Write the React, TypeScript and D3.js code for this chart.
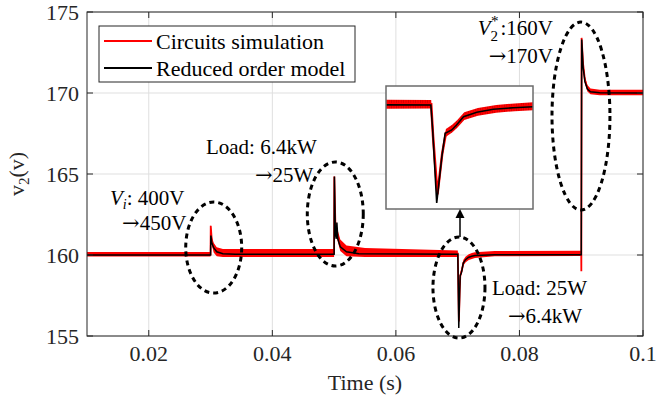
import React from 'react';
import * as d3 from 'd3';

// ---- data -------------------------------------------------------------
const timeTicks = [0.02, 0.04, 0.06, 0.08, 0.1];
const timeTickLabels = ['0.02', '0.04', '0.06', '0.08', '0.1'];
const voltTicks = [155, 160, 165, 170, 175];

// Reduced order model: [time (s), v2 (V)]
const reducedModel: [number, number][] = [
  [0.01, 160.0],
  [0.03, 160.0],
  [0.03005, 161.2],
  [0.0302, 160.75],
  [0.0305, 160.45],
  [0.031, 160.2],
  [0.032, 160.08],
  [0.034, 160.05],
  [0.05, 160.05],
  [0.05005, 164.85],
  [0.0502, 161.3],
  [0.05035, 161.0],
  [0.05045, 162.0],
  [0.0506, 161.0],
  [0.051, 160.5],
  [0.052, 160.2],
  [0.054, 160.08],
  [0.07002, 160.05],
  [0.07007, 158.89],
  [0.07018, 155.5],
  [0.07032, 157.65],
  [0.07041, 158.73],
  [0.07059, 158.89],
  [0.07072, 159.12],
  [0.07091, 159.5],
  [0.07127, 159.71],
  [0.07172, 159.85],
  [0.07226, 159.92],
  [0.0728, 159.97],
  [0.076, 160.02],
  [0.09, 160.02],
  [0.09008, 173.3],
  [0.0903, 171.6],
  [0.0906, 170.7],
  [0.091, 170.25],
  [0.0915, 170.08],
  [0.093, 170.02],
  [0.1, 170.0],
];

// Circuit simulation: [time (s), mean v2 (V), switching ripple half-width (V)]
const circuitSim: [number, number, number][] = [
  [0.01, 160.04, 0.14],
  [0.03, 160.04, 0.14],
  [0.03003, 161.8, 0.1],
  [0.0302, 160.9, 0.25],
  [0.0305, 160.45, 0.3],
  [0.031, 160.2, 0.28],
  [0.032, 160.12, 0.25],
  [0.05, 160.12, 0.25],
  [0.05003, 164.85, 0.1],
  [0.0502, 162.0, 0.3],
  [0.0505, 161.3, 0.35],
  [0.051, 160.6, 0.35],
  [0.052, 160.25, 0.33],
  [0.055, 160.15, 0.28],
  [0.07003, 160.08, 0.2],
  [0.07008, 158.6, 0.18],
  [0.0702, 155.9, 0.15],
  [0.07033, 157.8, 0.18],
  [0.07043, 158.75, 0.18],
  [0.0706, 158.95, 0.18],
  [0.07074, 159.17, 0.18],
  [0.07093, 159.53, 0.18],
  [0.0713, 159.73, 0.18],
  [0.0718, 159.87, 0.18],
  [0.0723, 159.94, 0.18],
  [0.0728, 159.99, 0.18],
  [0.076, 160.08, 0.16],
  [0.09, 160.1, 0.16],
  [0.09002, 159.0, 0.1],
  [0.09006, 173.4, 0.1],
  [0.0903, 171.8, 0.2],
  [0.0906, 170.8, 0.22],
  [0.091, 170.3, 0.2],
  [0.0915, 170.1, 0.18],
  [0.093, 170.03, 0.17],
  [0.1, 170.03, 0.17],
];

// Event highlight ellipses: centre (t, v) and radii (s, V)
const eventEllipses: [number, number, number, number][] = [
  [0.03051, 160.46, 0.00453, 2.81],
  [0.05019, 162.53, 0.00453, 3.21],
  [0.07021, 157.99, 0.00421, 3.12],
  [0.08996, 168.58, 0.00469, 5.8],
];

// ---- layout -----------------------------------------------------------
const W = 656;
const H = 403;
const plot = { left: 87, right: 643, top: 12, bottom: 336 };
const inset = { left: 386, right: 533, top: 86, bottom: 209 };
const insetTime: [number, number] = [0.0688, 0.0728];
const insetVolt: [number, number] = [155.22, 160.93];

const FONT = '"Liberation Serif", "Times New Roman", serif';
const ARROW_FONT = '"DejaVu Serif", serif';
const AX = '#262626';
const GRID = '#dfdfdf';
const RED = '#ff0000';

function Arrow() {
  return <tspan fontFamily={ARROW_FONT}>→</tspan>;
}

export default function App() {
  const x = d3.scaleLinear().domain([0.01, 0.1]).range([plot.left, plot.right]);
  const y = d3.scaleLinear().domain([155, 175]).range([plot.bottom, plot.top]);
  const xi = d3.scaleLinear().domain(insetTime).range([inset.left, inset.right]);
  const yi = d3.scaleLinear().domain(insetVolt).range([inset.bottom, inset.top]);

  const mkLine = (sx: d3.ScaleLinear<number, number>, sy: d3.ScaleLinear<number, number>) =>
    d3.line<[number, number]>().x((d) => sx(d[0])).y((d) => sy(d[1]));
  const mkSimLine = (sx: d3.ScaleLinear<number, number>, sy: d3.ScaleLinear<number, number>) =>
    d3.line<[number, number, number]>().x((d) => sx(d[0])).y((d) => sy(d[1]));
  const mkBand = (sx: d3.ScaleLinear<number, number>, sy: d3.ScaleLinear<number, number>) =>
    d3
      .area<[number, number, number]>()
      .x((d) => sx(d[0]))
      .y0((d) => sy(d[1] - d[2]))
      .y1((d) => sy(d[1] + d[2]));

  const tick = 6;
  const fs = 22;

  const at = (t: number, v: number) => ({ x: x(t), y: y(v) });
  const a1 = at(0.01372, 163.09);
  const a2 = at(0.01567, 161.54);
  const b1 = at(0.02926, 166.23);
  const b2 = at(0.03719, 164.51);
  const c1 = at(0.07556, 157.53);
  const c2 = at(0.07815, 155.8);
  const d1 = at(0.08543, 173.58);
  const d2 = at(0.08543, 171.85);

  const e3 = eventEllipses[2];
  const arrowX = 460;
  const arrowFrom = y(e3[1] + e3[3]);

  return (
    <svg
      width={W}
      height={H}
      style={{ position: 'absolute', left: 0, top: 0, background: '#fff' }}
      fontFamily={FONT}
    >
      <defs>
        <clipPath id="plotClip">
          <rect x={plot.left} y={plot.top} width={plot.right - plot.left} height={plot.bottom - plot.top} />
        </clipPath>
        <clipPath id="insetClip">
          <rect x={inset.left} y={inset.top} width={inset.right - inset.left} height={inset.bottom - inset.top} />
        </clipPath>
        {/* switching ripple texture for the zoomed simulation band */}
        <pattern id="ripple" width={2.4} height={4} patternUnits="userSpaceOnUse">
          <rect width={2.4} height={4} fill={RED} />
          <rect width={0.8} height={4} fill="#d40000" />
        </pattern>
      </defs>
      <rect x={0} y={0} width={W} height={H} fill="#fff" />

      {/* grid */}
      {timeTicks.map((t) => (
        <line key={'gx' + t} x1={x(t)} x2={x(t)} y1={plot.top} y2={plot.bottom} stroke={GRID} strokeWidth={1} />
      ))}
      {voltTicks.map((v) => (
        <line key={'gy' + v} x1={plot.left} x2={plot.right} y1={y(v)} y2={y(v)} stroke={GRID} strokeWidth={1} />
      ))}

      {/* series */}
      <g clipPath="url(#plotClip)">
        <path d={mkBand(x, y)(circuitSim) || ''} fill={RED} />
        <path d={mkSimLine(x, y)(circuitSim) || ''} fill="none" stroke={RED} strokeWidth={1.8} />
        <path d={mkLine(x, y)(reducedModel) || ''} fill="none" stroke="#000" strokeWidth={1.5} />
      </g>

      {/* axes box and ticks */}
      <rect
        x={plot.left}
        y={plot.top}
        width={plot.right - plot.left}
        height={plot.bottom - plot.top}
        fill="none"
        stroke={AX}
        strokeWidth={1}
      />
      {timeTicks.map((t) => (
        <g key={'tx' + t} stroke={AX}>
          <line x1={x(t)} x2={x(t)} y1={plot.bottom} y2={plot.bottom - tick} />
          <line x1={x(t)} x2={x(t)} y1={plot.top} y2={plot.top + tick} />
        </g>
      ))}
      {voltTicks.map((v) => (
        <g key={'ty' + v} stroke={AX}>
          <line x1={plot.left} x2={plot.left + tick} y1={y(v)} y2={y(v)} />
          <line x1={plot.right} x2={plot.right - tick} y1={y(v)} y2={y(v)} />
        </g>
      ))}
      {timeTicks.map((t, i) => (
        <text key={'lx' + t} x={x(t)} y={361} textAnchor="middle" fontSize={fs} fill={AX}>
          {timeTickLabels[i]}
        </text>
      ))}
      {voltTicks.map((v) => (
        <text key={'ly' + v} x={79} y={y(v) + 7.5} textAnchor="end" fontSize={fs} fill={AX}>
          {v}
        </text>
      ))}
      <text x={(plot.left + plot.right) / 2} y={390} textAnchor="middle" fontSize={fs} fill={AX}>
        Time (s)
      </text>
      <text transform={`translate(24, 174) rotate(-90)`} textAnchor="middle" fontSize={fs} fill={AX}>
        v<tspan fontSize={15} dy={5}>2</tspan>
        <tspan dy={-5}>(v)</tspan>
      </text>

      {/* event ellipses */}
      {eventEllipses.map((e, i) => (
        <ellipse
          key={'el' + i}
          cx={x(e[0])}
          cy={y(e[1])}
          rx={x(e[0] + e[2]) - x(e[0])}
          ry={y(e[1] - e[3]) - y(e[1])}
          fill="none"
          stroke="#000"
          strokeWidth={3}
          strokeDasharray="5 4"
        />
      ))}

      {/* annotations */}
      <g fontSize={21} fill="#000">
        <text x={a1.x} y={a1.y}>
          <tspan fontStyle="italic">V</tspan>
          <tspan fontStyle="italic" fontSize={14} dy={4}>i</tspan>
          <tspan dy={-4}>: 400V</tspan>
        </text>
        <text x={a2.x} y={a2.y}>
          <Arrow />
          450V
        </text>
        <text x={b1.x} y={b1.y}>Load: 6.4kW</text>
        <text x={b2.x} y={b2.y}>
          <Arrow />
          25W
        </text>
        <text x={c1.x} y={c1.y}>Load: 25W</text>
        <text x={c2.x} y={c2.y}>
          <Arrow />
          6.4kW
        </text>
        <text x={d1.x} y={d1.y} textAnchor="end">
          <tspan fontStyle="italic">V</tspan>
          <tspan fontSize={15} dy={6}>2</tspan>
          <tspan fontSize={15} dx={-7} dy={-15}>*</tspan>
          <tspan dx={2} dy={9}>:160V</tspan>
        </text>
        <text x={d2.x} y={d2.y} textAnchor="end">
          <Arrow />
          170V
        </text>
      </g>

      {/* zoomed inset of the 0.07 s load step */}
      <rect
        x={inset.left}
        y={inset.top}
        width={inset.right - inset.left}
        height={inset.bottom - inset.top}
        fill="#fff"
      />
      <g clipPath="url(#insetClip)">
        <path d={mkBand(xi, yi)(circuitSim) || ''} fill="url(#ripple)" />
        <path d={mkSimLine(xi, yi)(circuitSim) || ''} fill="none" stroke={RED} strokeWidth={2.5} />
        <path d={mkLine(xi, yi)(reducedModel) || ''} fill="none" stroke="#000" strokeWidth={1.6} />
      </g>
      <rect
        x={inset.left}
        y={inset.top}
        width={inset.right - inset.left}
        height={inset.bottom - inset.top}
        fill="none"
        stroke="#6b6b6b"
        strokeWidth={1.5}
      />
      <line x1={arrowX} x2={arrowX} y1={arrowFrom} y2={inset.bottom + 6} stroke="#000" strokeWidth={1.5} />
      <path
        d={`M${arrowX},${inset.bottom} L${arrowX - 4.5},${inset.bottom + 9} L${arrowX + 4.5},${inset.bottom + 9} Z`}
        fill="#000"
      />

      {/* legend */}
      <g>
        <rect x={99} y={26} width={256} height={56} fill="#fff" stroke={AX} strokeWidth={1} />
        <line x1={104} x2={152} y1={41} y2={41} stroke={RED} strokeWidth={2} />
        <line x1={104} x2={152} y1={68} y2={68} stroke="#000" strokeWidth={2} />
        <text x={156} y={49} fontSize={fs} fill="#000">Circuits simulation</text>
        <text x={156} y={75.5} fontSize={fs} fill="#000">Reduced order model</text>
      </g>
    </svg>
  );
}
